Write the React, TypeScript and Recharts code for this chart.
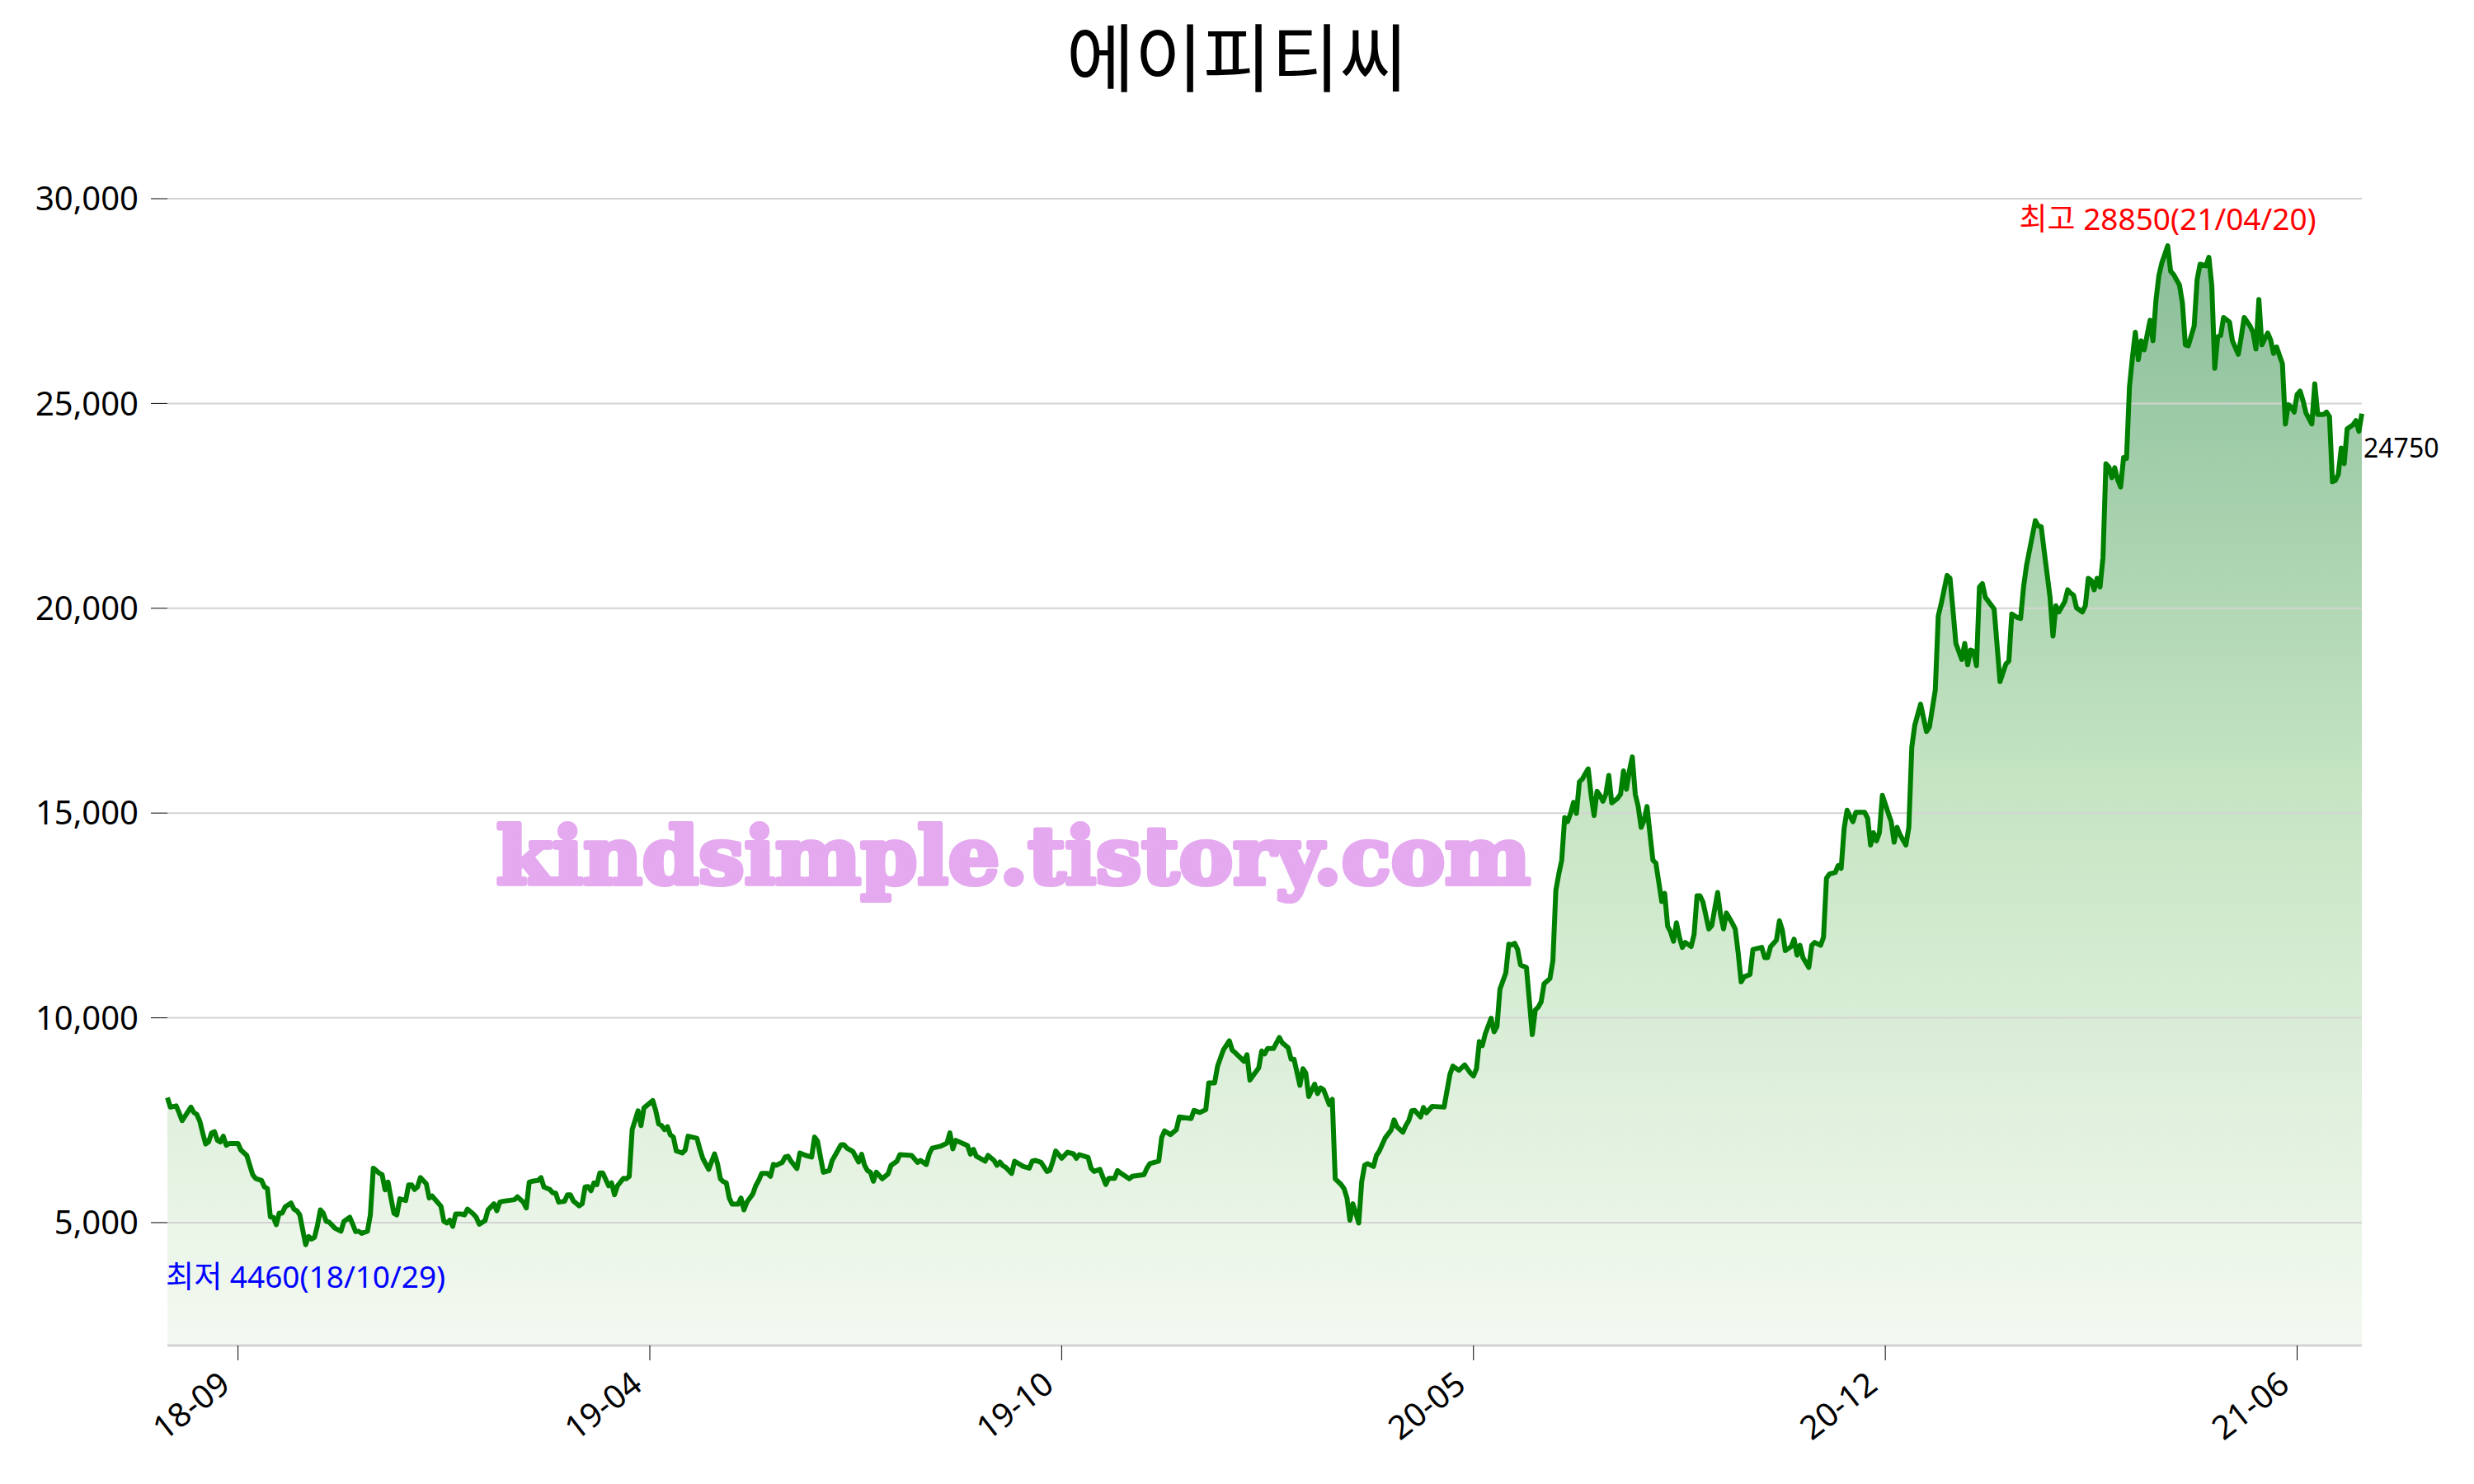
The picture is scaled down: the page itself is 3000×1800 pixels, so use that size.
import React from "react";
import {
  ComposedChart,
  Area,
  Line,
  XAxis,
  YAxis,
  ReferenceLine,
  ReferenceDot,
} from "recharts";

const FONT = "'Noto Sans', 'Noto Sans CJK KR', sans-serif";

const chartTitle = "에이피티씨";
const watermark = "kindsimple.tistory.com";

// trading-day index (x) and closing price
const tradingDay = [
  0, 1, 3, 4, 5, 8, 9, 10, 11, 12,
  13, 14, 15, 16, 17, 18, 19, 20, 21, 24,
  25, 27, 28, 29, 30, 32, 33, 34, 35, 36,
  37, 38, 39, 40, 42, 43, 44, 45, 47, 48,
  49, 50, 51, 52, 53, 54, 55, 57, 59, 60,
  62, 63, 64, 65, 66, 68, 69, 70, 72, 73,
  74, 75, 76, 77, 78, 79, 81, 82, 83, 84,
  85, 86, 88, 89, 90, 93, 94, 95, 96, 97,
  98, 100, 101, 102, 104, 105, 106, 108, 109, 111,
  112, 113, 114, 118, 119, 121, 122, 123, 124, 126,
  127, 128, 130, 131, 132, 133, 135, 136, 137, 138,
  140, 141, 142, 143, 144, 145,
  146, 147, 148, 150, 151, 152, 153, 155, 156, 157,
  158, 160, 161, 162, 165, 166, 167, 168, 169, 170,
  171, 172, 173, 175, 176, 177, 180, 181, 182, 184,
  186, 187, 188, 189, 190, 191, 192, 194, 195, 196,
  197, 199, 200, 201, 202, 204, 205, 206, 207, 209,
  210, 211, 212, 214, 215, 216, 217, 219, 220, 221,
  223, 225, 226, 229, 230, 231, 233, 235, 236, 237,
  238, 239, 240, 241, 243, 245, 246, 248, 249, 253,
  255, 256, 258, 259, 260, 263, 265, 266, 267, 268,
  272, 273, 274, 275, 278, 279, 281, 282, 283, 284,
  285, 287, 288, 291, 293, 294, 295, 297, 299, 300,
  301, 302, 304, 306, 308,
  309, 310, 313, 314, 315, 317, 319, 320, 322, 323,
  324, 327, 328, 332, 333, 334, 337, 338, 339, 341,
  343, 344, 348, 349, 351, 353, 354, 356, 357, 358,
  359, 361, 362, 363, 366, 367, 368, 371, 372, 373,
  374, 376, 378, 379, 381, 382, 383, 385, 386, 387,
  388, 390, 391, 392, 393, 395, 396, 397, 399, 400,
  401, 402, 403, 405, 406, 407, 408, 410, 411, 412,
  414, 416, 417, 418, 420, 421, 422, 423, 424, 426,
  427, 428, 430, 434, 436, 437, 439, 441, 443, 444,
  445, 446, 447, 448, 450, 451, 452,
  453, 455, 456, 457, 458, 459, 460, 462, 464, 465,
  466, 467, 468, 470, 471, 472, 473, 474, 475, 476,
  477, 478, 479, 480, 481, 482, 483, 484, 485, 486,
  487, 488, 489, 490, 491, 493, 494, 495, 496, 497,
  498, 499, 500, 501, 502, 503, 504, 505, 506, 507,
  508, 509, 510, 511, 512, 513, 514, 515, 516, 518,
  519, 520, 521, 522, 524, 525, 527, 528, 529, 530,
  532, 533, 534, 535, 536, 538, 539, 542, 543, 544,
  545, 547, 548, 549, 550, 551, 552, 553, 554, 555,
  556, 558, 559, 560, 562, 563, 564, 565, 567, 568,
  569, 570, 571, 572, 573, 574, 577, 578, 579, 580,
  581, 582, 583, 585, 586, 587, 588, 589, 591, 592,
  593, 594, 596, 598, 599,
  601, 602, 603, 605, 606, 607, 608, 610, 611, 612,
  613, 614, 615, 616, 617, 618, 621, 623, 625, 626,
  627, 629, 630, 631, 632, 635, 636, 637, 638, 640,
  641, 642, 643, 645, 646, 647, 648, 649, 651, 652,
  653, 654, 655, 656, 657, 658, 659, 660, 661, 662,
  663, 664, 665, 666, 667, 668, 669, 670, 671, 672,
  674, 675, 676, 677, 678, 680, 681, 682, 684, 685,
  686, 687, 689, 690, 691, 693, 694, 695, 696, 697,
  698, 699, 701, 702, 704, 705, 706, 708, 709, 710,
  711, 712, 713, 714, 715, 716, 717, 719, 720, 721,
  722, 723, 724, 725, 726, 727, 729, 730, 731, 733,
  734, 735, 736, 737, 738, 739, 740, 741, 743, 744,
  745, 746,
];

const closePrice = [
  8050, 7820, 7850, 7680, 7490, 7820, 7690, 7640, 7480, 7190,
  6920, 6970, 7190, 7220, 7010, 6970, 7110, 6890, 6930, 6930,
  6770, 6640, 6400, 6170, 6080, 6030, 5870, 5830, 5140, 5130,
  4950, 5230, 5230, 5380, 5480, 5330, 5290, 5190, 4460, 4660,
  4600, 4640, 4930, 5310, 5230, 5030, 5010, 4860, 4790, 5030,
  5130, 4960, 4780, 4790, 4740, 4790, 5190, 6330, 6210, 6170,
  5800, 5990, 5600, 5230, 5190, 5580, 5540, 5920, 5920, 5810,
  5870, 6100, 5950, 5600, 5650, 5400, 5030, 4990, 5060, 4910,
  5210, 5210, 5190, 5330, 5210, 5130, 4960, 5050, 5310, 5460,
  5290, 5500, 5520, 5560, 5630, 5500, 5360, 5990, 6010, 6030,
  6100, 5870, 5810, 5730, 5720, 5500, 5520, 5680, 5680, 5530,
  5410, 5460, 5870, 5880, 5780, 5970,
  5930, 6210, 6210, 5900, 5970, 5680, 5900, 6080, 6070, 6130,
  7270, 7730, 7370, 7800, 7980, 7740, 7410, 7370, 7270, 7340,
  7140, 7090, 6750, 6700, 6770, 7110, 7060, 6800, 6570, 6300,
  6680, 6440, 6070, 6000, 5970, 5600, 5450, 5450, 5600, 5310,
  5500, 5700, 5900, 6030, 6200, 6200, 6130, 6420, 6400, 6470,
  6600, 6620, 6500, 6320, 6700, 6670, 6640, 6600, 7090, 6990,
  6230, 6270, 6520, 6900, 6900, 6820, 6740, 6480, 6670, 6400,
  6270, 6230, 6010, 6230, 6070, 6190, 6400, 6500, 6660, 6640,
  6470, 6520, 6420, 6680, 6820, 6870, 6940, 7190, 6800, 7010,
  6880, 6670, 6790, 6620, 6500, 6640, 6520, 6400, 6480, 6390,
  6350, 6200, 6500, 6370, 6330, 6500, 6520, 6470, 6250, 6280,
  6500, 6750, 6570, 6720, 6680,
  6570, 6660, 6590, 6330, 6250, 6300, 5930, 6080, 6080, 6270,
  6210, 6070, 6130, 6170, 6330, 6440, 6500, 7080, 7240, 7150,
  7270, 7580, 7540, 7740, 7690, 7760, 8410, 8410, 8820, 9020,
  9220, 9440, 9210, 9150, 8940, 9100, 8480, 8780, 9190, 9120,
  9250, 9250, 9520, 9390, 9270, 8990, 8990, 8350, 8760, 8650,
  8080, 8380, 8150, 8290, 8250, 7880, 8010, 6070, 5930, 5830,
  5600, 5060, 5460, 4990, 6000, 6400, 6440, 6370, 6640, 6750,
  7070, 7260, 7510, 7340, 7210, 7370, 7490, 7730, 7740, 7580,
  7810, 7680, 7840, 7820, 8620, 8820, 8720, 8850, 8650, 8580,
  8750, 9420, 9320, 9610, 9990, 9660, 9790,
  10700, 11100, 11800, 11780, 11820, 11670, 11290, 11230, 9590, 10190,
  10260, 10390, 10830, 10960, 11400, 13110, 13510, 13850, 14890, 14790,
  14990, 15260, 14990, 15760, 15830, 15960, 16080, 15430, 14940, 15530,
  15430, 15290, 15460, 15920, 15250, 15360, 15460, 16030, 15580, 16030,
  16370, 15460, 15160, 14650, 14820, 15160, 14490, 13850, 13780, 13310,
  12840, 13040, 12240, 12100, 11870, 12320, 11970, 11720, 11840, 11740,
  12040, 12980, 12980, 12830, 12170, 12250, 13060, 12520, 12170, 12560,
  12310, 12170, 11580, 10880, 11000, 11060, 11670, 11720, 11470, 11470,
  11740, 11900, 12370, 12140, 11640, 11690, 11740, 11920, 11530, 11770,
  11470, 11230, 11770, 11840, 11770, 11970, 13410, 13510, 13550, 13720,
  13650, 14620, 15070, 14920, 14790, 15020, 15020, 14870, 14220, 14520,
  14320, 14520, 15430, 15000, 14790, 14290, 14650, 14470, 14220, 14650,
  16600, 17140, 17660, 16990, 17100,
  18010, 19810, 20110, 20800, 20730, 19960, 19140, 18750, 19140, 18620,
  18980, 18950, 18600, 20520, 20600, 20270, 19980, 18210, 18640, 18710,
  19860, 19770, 19750, 20520, 21040, 22140, 22010, 21990, 21400, 20270,
  19320, 20060, 19910, 20160, 20450, 20370, 20320, 20010, 19910, 20060,
  20730, 20680, 20450, 20730, 20520, 21240, 23530, 23450, 23190, 23430,
  23140, 22960, 23680, 23660, 25400, 26120, 26740, 26070, 26530, 26310,
  27030, 26530, 27510, 28120, 28430, 28850, 28230, 28150, 27890, 27460,
  26430, 26410, 26890, 28020, 28400, 28360, 28570, 27870, 25860, 26630,
  26660, 27100, 26990, 26530, 26200, 26630, 27100, 26890, 26740, 26330,
  27540, 26430, 26580, 26720, 26550, 26220, 26380, 25970, 24500, 24970,
  24910, 24790, 25220, 25300, 25070, 24770, 24500, 25480, 24730, 24730,
  24790, 24680, 23090, 23120, 23270, 23910, 23530, 24380, 24480, 24580,
  24320, 24750,
];

const tickDays = [24, 164, 304, 444, 584, 724];
const tickLabels = ["18-09", "19-04", "19-10", "20-05", "20-12", "21-06"];
const priceTicks = [5000, 10000, 15000, 20000, 25000, 30000];
const priceDomain = [2000, 30000];
const dayDomain = [0, 746];

const highDate = "21/04/20";
const lowDate = "18/10/29";

const data = tradingDay.map((day, i) => ({ day, price: closePrice[i] }));

const highIdx = closePrice.indexOf(Math.max(...closePrice));
const lowIdx = closePrice.indexOf(Math.min(...closePrice));
const lastIdx = closePrice.length - 1;

const MonthTick = (props: any) => {
  const { x, y, payload } = props;
  const label = tickLabels[tickDays.indexOf(payload.value)];
  return (
    <text
      transform={`translate(${x - 7},${y + 32}) rotate(-38)`}
      textAnchor="end"
      fontSize={40}
      fontFamily={FONT}
      fill="#000"
    >
      {label}
    </text>
  );
};

const PointNote = (props: any) => {
  const { viewBox, text, color, dx, dy, anchor, size } = props;
  const cx = viewBox.x + (viewBox.width || 0) / 2;
  const cy = viewBox.y + (viewBox.height || 0) / 2;
  return (
    <text x={cx + dx} y={cy + dy} textAnchor={anchor} fill={color} fontSize={size} fontFamily={FONT}>
      {text}
    </text>
  );
};

export default function App() {
  return (
    <div style={{ position: "absolute", left: 0, top: 0, width: 3000, height: 1800, background: "#fff" }}>
      <ComposedChart
        width={3000}
        height={1800}
        data={data}
        margin={{ top: 241, right: 136, bottom: 0, left: 0 }}
      >
        <defs>
          <linearGradient id="aptcFill" x1="0" y1="0" x2="0" y2="1">
            <stop offset="0%" stopColor="#8abe99" />
            <stop offset="50%" stopColor="#c6e5c3" />
            <stop offset="100%" stopColor="#f4f9f1" />
          </linearGradient>
        </defs>
        <XAxis
          type="number"
          dataKey="day"
          domain={dayDomain}
          ticks={tickDays}
          interval={0}
          height={168}
          axisLine={{ stroke: "#d3d3d3", strokeWidth: 3 }}
          tickLine={{ stroke: "#000", strokeWidth: 1 }}
          tickSize={18}
          tick={<MonthTick />}
        />
        <YAxis
          type="number"
          domain={priceDomain}
          ticks={priceTicks}
          interval={0}
          width={203}
          axisLine={false}
          tickLine={{ stroke: "#000", strokeWidth: 1 }}
          tickSize={20}
          tickMargin={15}
          tick={{ fill: "#000", fontSize: 40, fontFamily: FONT }}
          tickFormatter={(v: number) => v.toLocaleString("en-US")}
        />
        <Area
          type="linear"
          dataKey="price"
          stroke="none"
          fill="url(#aptcFill)"
          fillOpacity={1}
          isAnimationActive={false}
        />
        {priceTicks.map((p) => (
          <ReferenceLine key={p} y={p} stroke="#d3d3d3" strokeWidth={2} />
        ))}
        <Line
          type="linear"
          dataKey="price"
          stroke="#008000"
          strokeWidth={6}
          strokeLinejoin="round"
          dot={false}
          activeDot={false}
          isAnimationActive={false}
        />
        <ReferenceDot
          x={tradingDay[highIdx]}
          y={closePrice[highIdx]}
          r={0}
          fill="none"
          stroke="none"
          label={
            <PointNote
              text={`최고 ${closePrice[highIdx]}(${highDate})`}
              color="#ff0000"
              dx={0}
              dy={-19}
              anchor="middle"
              size={37}
            />
          }
        />
        <ReferenceDot
          x={tradingDay[lowIdx]}
          y={closePrice[lowIdx]}
          r={0}
          fill="none"
          stroke="none"
          label={
            <PointNote
              text={`최저 ${closePrice[lowIdx]}(${lowDate})`}
              color="#0000ff"
              dx={0}
              dy={52}
              anchor="middle"
              size={37}
            />
          }
        />
        <ReferenceDot
          x={tradingDay[lastIdx]}
          y={closePrice[lastIdx]}
          r={0}
          fill="none"
          stroke="none"
          label={
            <PointNote
              text={`${closePrice[lastIdx]}`}
              color="#000"
              dx={2}
              dy={53}
              anchor="start"
              size={32}
            />
          }
        />
      </ComposedChart>
      <svg
        width={3000}
        height={1800}
        style={{ position: "absolute", left: 0, top: 0, pointerEvents: "none" }}
      >
        <text
          x={1500}
          y={65}
          textAnchor="middle"
          dominantBaseline="central"
          fontSize={90}
          fontFamily="'Noto Sans CJK KR', sans-serif"
          fill="#000"
        >
          {chartTitle}
        </text>
        <text
          x={602}
          y={1072}
          textLength={1254}
          lengthAdjust="spacingAndGlyphs"
          fontSize={96}
          fontWeight={700}
          fontFamily="'DejaVu Serif', serif"
          fill="#e4a9ef"
          stroke="#e4a9ef"
          strokeWidth={6}
          strokeLinejoin="round"
        >
          {watermark}
        </text>
      </svg>
    </div>
  );
}
